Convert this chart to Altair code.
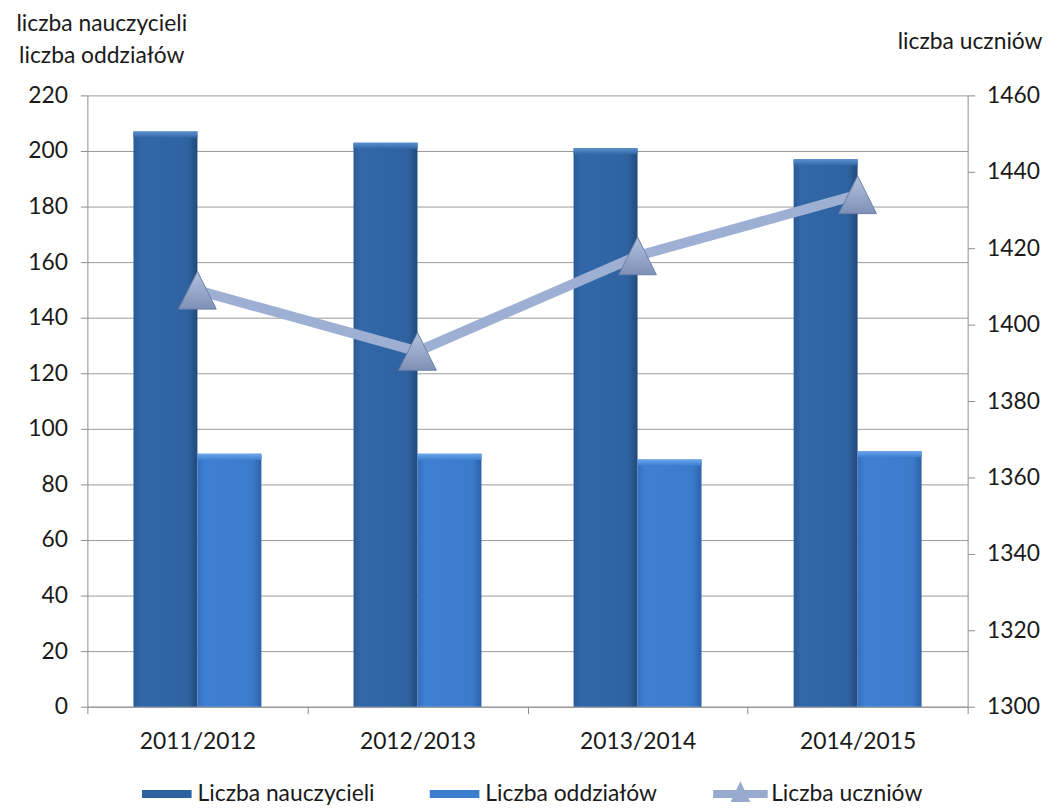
import altair as alt
import pandas as pd

# ---- data ----
years = ["2011/2012", "2012/2013", "2013/2014", "2014/2015"]
nauczyciele = [207, 203, 201, 197]
oddzialy = [91, 91, 89, 92]
uczniowie = [1409, 1393, 1418, 1434]
series = ["Liczba nauczycieli", "Liczba oddziałów", "Liczba uczniów"]
left_ticks = [0, 20, 40, 60, 80, 100, 120, 140, 160, 180, 200, 220]
right_ticks = [1300, 1320, 1340, 1360, 1380, 1400, 1420, 1440, 1460]

bars_df = pd.DataFrame({
    "rok": years * 2,
    "seria": [series[0]] * len(years) + [series[1]] * len(years),
    "wartosc": nauczyciele + oddzialy,
})
line_df = pd.DataFrame({"rok": years, "uczniowie": uczniowie})
legend_df = pd.DataFrame({"seria": series})

FONT = "Lato"
FS = 23
TXT = "#1a1a1a"
GREY = "#8c8c8c"

grad_dark = {"gradient": "linear", "x1": 0, "y1": 0, "x2": 1, "y2": 0,
             "stops": [{"offset": 0, "color": "#2a5a95"},
                       {"offset": 0.12, "color": "#3268a8"},
                       {"offset": 0.85, "color": "#2f62a0"},
                       {"offset": 1, "color": "#214a7c"}]}
grad_light = {"gradient": "linear", "x1": 0, "y1": 0, "x2": 1, "y2": 0,
              "stops": [{"offset": 0, "color": "#3470bd"},
                        {"offset": 0.12, "color": "#3e80d2"},
                        {"offset": 0.85, "color": "#3b7bcc"},
                        {"offset": 1, "color": "#2c63aa"}]}
cap_dark = {"gradient": "linear", "x1": 0, "y1": 0, "x2": 0, "y2": 1,
            "stops": [{"offset": 0, "color": "#5a8fd0"},
                      {"offset": 1, "color": "#3268a8"}]}
cap_light = {"gradient": "linear", "x1": 0, "y1": 0, "x2": 0, "y2": 1,
             "stops": [{"offset": 0, "color": "#6aa6ea"},
                       {"offset": 1, "color": "#3e80d2"}]}
grad_tri = {"gradient": "linear", "x1": 0, "y1": 0, "x2": 0, "y2": 1,
            "stops": [{"offset": 0, "color": "#b3c2de"},
                      {"offset": 1, "color": "#7e90b6"}]}

x_enc = alt.X("rok:N", sort=years,
              scale=alt.Scale(paddingInner=0, paddingOuter=0),
              axis=alt.Axis(title=None, tickBand="extent", labelAngle=0,
                            labelFont=FONT, labelFontSize=FS, labelColor=TXT,
                            labelPadding=17, tickSize=7, tickColor=GREY,
                            domainColor=GREY))
xoff = alt.XOffset("seria:N", sort=series[:2],
                   scale=alt.Scale(paddingInner=0, paddingOuter=0.72))

left_axis = alt.Axis(values=left_ticks, grid=True, gridColor="#9a9a9a",
                     domainColor=GREY, tickColor=GREY, tickSize=7,
                     labelFont=FONT, labelFontSize=FS, labelColor=TXT,
                     labelPadding=13,
                     title=["liczba nauczycieli", "liczba oddziałów"],
                     titleAngle=0, titleX=14, titleY=-65,
                     titleAlign="center", titleBaseline="alphabetic",
                     titleFont=FONT, titleFontSize=FS,
                     titleFontWeight="normal", titleColor=TXT,
                     titleLineHeight=32)
y_left = alt.Y("wartosc:Q", scale=alt.Scale(domain=[0, 220], nice=False),
               axis=left_axis)

bars = alt.Chart(bars_df).mark_bar().encode(
    x=x_enc, xOffset=xoff, y=y_left,
    fill=alt.condition(alt.datum.seria == series[0],
                       alt.value(grad_dark), alt.value(grad_light)),
)
caps = alt.Chart(bars_df).transform_calculate(
    cap="datum.wartosc - 2.2"
).mark_bar().encode(
    x=x_enc, xOffset=xoff, y=y_left, y2="cap:Q",
    fill=alt.condition(alt.datum.seria == series[0],
                       alt.value(cap_dark), alt.value(cap_light)),
)

right_axis = alt.Axis(orient="right", values=right_ticks, grid=False,
                      format="d",
                      domainColor=GREY, tickColor=GREY, tickSize=7,
                      labelFont=FONT, labelFontSize=FS, labelColor=TXT,
                      labelPadding=12, title="liczba uczniów", titleAngle=0,
                      titleX=2, titleY=-47, titleAlign="center",
                      titleBaseline="alphabetic", titleFont=FONT,
                      titleFontSize=FS, titleFontWeight="normal",
                      titleColor=TXT)
y_right = alt.Y("uczniowie:Q",
                scale=alt.Scale(domain=[1300, 1460], nice=False, zero=False),
                axis=right_axis)

line = alt.Chart(line_df).mark_line(strokeWidth=10, color="#9db0d3").encode(
    x=x_enc, y=y_right)
points = alt.Chart(line_df).mark_point(
    shape="M0,-1L1,1L-1,1Z", size=1444, filled=True, fill=grad_tri,
    stroke="#6d80a6", strokeWidth=1, opacity=1).encode(x=x_enc, y=y_right)

left = alt.layer(bars, caps)
right = alt.layer(line, points)

rect_path = "M-1,-0.16H1V0.16H-1Z"
line_path = "M-1.1,-0.16H1.1V0.16H-1.1Z M0,-0.52L0.4,0.32L-0.4,0.32Z"
shape_expr = f"datum.value === '{series[2]}' ? '{line_path}' : '{rect_path}'"

legend_layer = alt.Chart(legend_df).mark_square(opacity=0).encode(
    color=alt.Color("seria:N",
                    scale=alt.Scale(domain=series,
                                    range=["#2f62a0", "#3c7ecf", "#98abcf"]),
                    legend=alt.Legend(title=None, orient="none", legendX=55,
                                      legendY=679, direction="horizontal",
                                      labelFont=FONT, labelFontSize=FS,
                                      labelColor=TXT, labelLimit=400,
                                      symbolSize=2500,
                                      symbolOpacity=1, symbolStrokeWidth=0,
                                      columnPadding=55, labelOffset=6,
                                      padding=0,
                                      symbolType=alt.ExprRef(shape_expr))),
)

chart = alt.layer(left, right, legend_layer).resolve_scale(
    y="independent"
).properties(
    width=887, height=616,
    autosize=alt.AutoSizeParams(type="none"),
    padding={"left": 80, "top": 85, "right": 84, "bottom": 100},
).configure_view(stroke=None)

chart.save("out.html", embed_options={"renderer": "svg", "actions": False})
